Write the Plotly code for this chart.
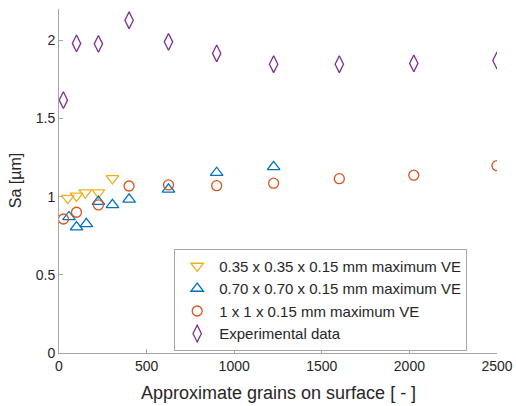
import plotly.graph_objects as go

# Data
x_small = [50, 100, 150, 225, 305]
y_small = [0.99, 1.005, 1.026, 1.026, 1.117]

x_mid = [57, 100, 156, 225, 305, 400, 625, 900, 1225]
y_mid = [0.87, 0.805, 0.826, 0.968, 0.947, 0.983, 1.047, 1.153, 1.19]

x_big = [25, 100, 225, 400, 625, 900, 1225, 1600, 2025, 2500]
y_big = [0.857, 0.90, 0.947, 1.068, 1.075, 1.07, 1.086, 1.115, 1.137, 1.198]

x_exp = [25, 100, 225, 400, 625, 900, 1225, 1600, 2025, 2500]
y_exp = [1.617, 1.98, 1.977, 2.128, 1.99, 1.916, 1.847, 1.847, 1.852, 1.871]

names = ["0.35 x 0.35 x 0.15 mm maximum VE",
         "0.70 x 0.70 x 0.15 mm maximum VE",
         "1 x 1 x 0.15 mm maximum VE",
         "Experimental data"]

x_ticks = [0, 500, 1000, 1500, 2000, 2500]
y_ticks = [0, 0.5, 1, 1.5, 2]
y_ticktext = ["0", "0.5", "1", "1.5", "2"]

x_title = "Approximate grains on surface [ - ]"
y_title = "Sa [µm]"

FONT = "Liberation Sans, Arial, sans-serif"
TXT = "#262626"
AX = "#A6A6A6"

fig = go.Figure()
fig.add_trace(go.Scatter(x=x_small, y=y_small, mode="markers", name=names[0],
                         marker=dict(symbol="triangle-down-open", size=11,
                                     color="#EDB120", line=dict(width=1.3))))
fig.add_trace(go.Scatter(x=x_mid, y=y_mid, mode="markers", name=names[1],
                         marker=dict(symbol="triangle-up-open", size=11,
                                     color="#0072BD", line=dict(width=1.3))))
fig.add_trace(go.Scatter(x=x_big, y=y_big, mode="markers", name=names[2],
                         marker=dict(symbol="circle-open", size=10,
                                     color="#D95319", line=dict(width=1.3))))
fig.add_trace(go.Scatter(x=x_exp, y=y_exp, mode="markers", name=names[3],
                         marker=dict(symbol="diamond-tall-open", size=12,
                                     color="#7E2F8E", line=dict(width=1.3))))

axis_common = dict(showgrid=False, zeroline=False, showline=True,
                   linecolor=AX, linewidth=1, ticks="inside",
                   tickcolor=AX, ticklen=4, automargin=False,
                   tickfont=dict(family=FONT, size=14, color=TXT),
                   mirror=False)

fig.update_layout(
    width=516, height=406,
    margin=dict(l=59, r=19, t=9, b=53, autoexpand=False),
    paper_bgcolor="white", plot_bgcolor="white",
    font=dict(family=FONT, size=14, color=TXT),
    xaxis=dict(range=[0, 2500], tickvals=x_ticks, **axis_common),
    yaxis=dict(range=[0, 2.2], tickvals=y_ticks, ticktext=y_ticktext,
               **axis_common),
    legend=dict(x=0.263, y=0.303, xanchor="left", yanchor="top",
                bgcolor="white", bordercolor=AX, borderwidth=1,
                itemwidth=34,
                font=dict(family=FONT, size=15, color=TXT)),
    showlegend=True,
    annotations=[
        dict(text=x_title, xref="paper", yref="paper", x=0.5, y=-0.115,
             xanchor="center", yanchor="middle", showarrow=False,
             font=dict(family=FONT, size=18, color=TXT)),
        dict(text=y_title, xref="paper", yref="paper", x=-0.1, y=0.5,
             xanchor="center", yanchor="middle", showarrow=False,
             textangle=-90, font=dict(family=FONT, size=16, color=TXT)),
    ],
)

fig.write_html("out.html")
